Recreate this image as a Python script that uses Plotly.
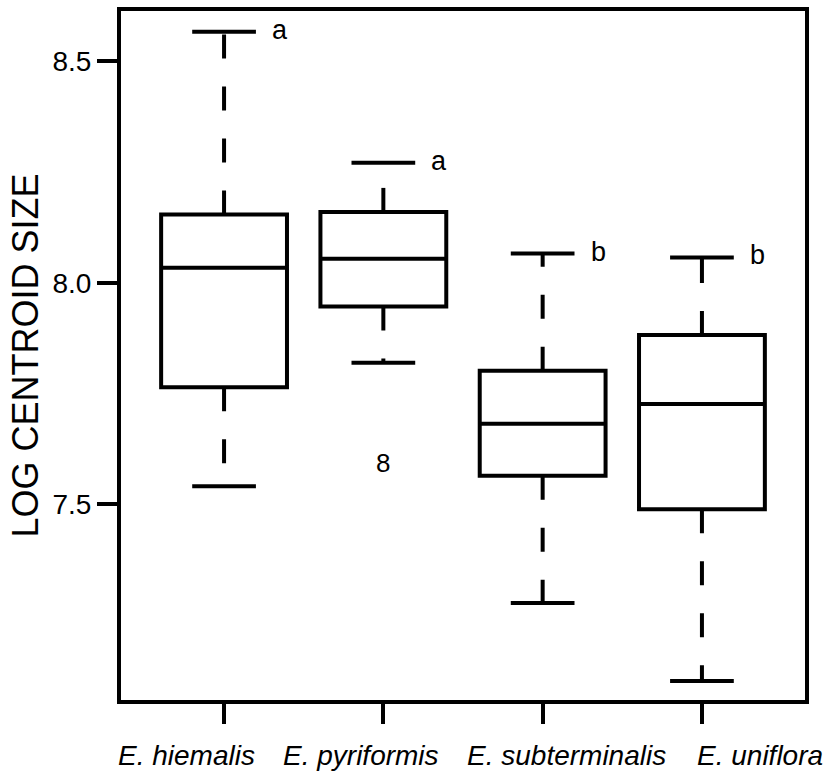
import plotly.graph_objects as go

categories = ["E. hiemalis", "E. pyriformis", "E. subterminalis", "E. uniflora"]
q1 = [7.764, 7.946, 7.564, 7.488]
median = [8.034, 8.054, 7.681, 7.726]
q3 = [8.154, 8.160, 7.801, 7.882]
lower_whisker = [7.540, 7.819, 7.276, 7.100]
upper_whisker = [8.567, 8.271, 8.066, 8.057]
group_letters = ["a", "a", "b", "b"]
outlier_category = [1]
outlier_value = [7.586]
outlier_label = ["8"]
y_ticks = [7.5, 8.0, 8.5]
y_ticktext = ["7.5", "8.0", "8.5"]

# layout-only: horizontal pixel offsets of category labels (they are spread apart in the original)
label_shift_px = [-38, -22, 24, 58]

FONT = "Liberation Sans, Arial, sans-serif"
pos = list(range(len(categories)))
cap_half = 0.2

fig = go.Figure()

# dashed whiskers, drawn from box edge outward
wx, wy = [], []
for i in pos:
    wx += [i, i, None, i, i, None]
    wy += [q3[i], upper_whisker[i], None, q1[i], lower_whisker[i], None]
fig.add_trace(go.Scatter(x=wx, y=wy, mode="lines", connectgaps=False,
                         line=dict(color="black", width=4, dash="24px,28px"),
                         hoverinfo="skip", showlegend=False))

# whisker caps
cx, cy = [], []
for i in pos:
    cx += [i - cap_half, i + cap_half, None, i - cap_half, i + cap_half, None]
    cy += [upper_whisker[i], upper_whisker[i], None, lower_whisker[i], lower_whisker[i], None]
fig.add_trace(go.Scatter(x=cx, y=cy, mode="lines", connectgaps=False,
                         line=dict(color="black", width=4),
                         hoverinfo="skip", showlegend=False))

# boxes
fig.add_trace(go.Box(x=pos, q1=q1, median=median, q3=q3,
                     lowerfence=q1, upperfence=q3,
                     width=0.79, whiskerwidth=0, boxpoints=False,
                     fillcolor="white", line=dict(color="black", width=4),
                     showlegend=False))

# outlier label
fig.add_trace(go.Scatter(x=outlier_category, y=outlier_value, mode="text",
                         text=outlier_label, textposition="middle center",
                         textfont=dict(family=FONT, size=26, color="black"),
                         showlegend=False))

annotations = []
for i in pos:
    annotations.append(dict(x=i + cap_half, y=upper_whisker[i], xref="x", yref="y",
                            text=group_letters[i], showarrow=False,
                            xanchor="left", yanchor="middle", xshift=14, yshift=2,
                            font=dict(family=FONT, size=27, color="black")))
    annotations.append(dict(x=i, y=0, xref="x", yref="paper",
                            text="<i>" + categories[i] + "</i>", showarrow=False,
                            xanchor="center", yanchor="middle",
                            xshift=label_shift_px[i], yshift=-55,
                            font=dict(family=FONT, size=28, color="black")))

fig.update_layout(
    width=827, height=775,
    margin=dict(l=121, r=22, t=11, b=75, autoexpand=False),
    paper_bgcolor="white", plot_bgcolor="white",
    font=dict(family=FONT, color="black"),
    annotations=annotations,
    xaxis=dict(range=[-0.647, 3.647], tickvals=pos, showticklabels=False,
               automargin=False,
               showline=True, linewidth=4, linecolor="black", mirror=True,
               ticks="outside", ticklen=20, tickwidth=4, tickcolor="black",
               showgrid=False, zeroline=False),
    yaxis=dict(range=[7.057, 8.614], tickvals=y_ticks, ticktext=y_ticktext,
               tickfont=dict(family=FONT, size=28, color="black"),
               automargin=False,
               showline=True, linewidth=4, linecolor="black", mirror=True,
               ticks="outside", ticklen=20, tickwidth=4, tickcolor="black",
               showgrid=False, zeroline=False,
               title=dict(text="LOG CENTROID SIZE",
                          font=dict(family=FONT, size=36, color="black"),
                          standoff=4)),
)

fig.write_html("out.html")
